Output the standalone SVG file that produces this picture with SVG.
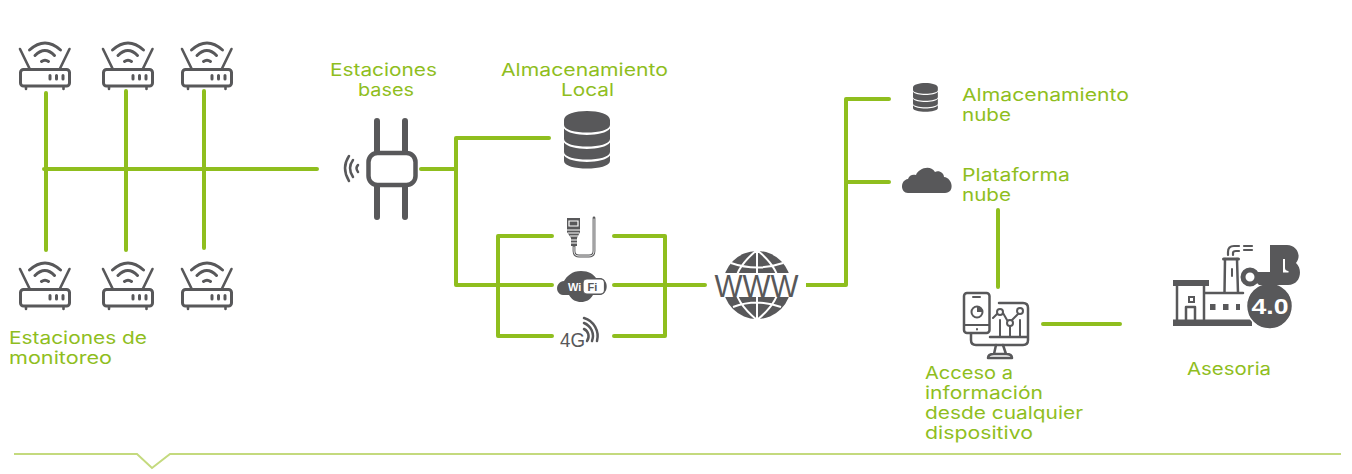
<svg xmlns="http://www.w3.org/2000/svg" width="1352" height="474" viewBox="0 0 1352 474">
<style>
.l{font-family:"Inter","Liberation Sans",sans-serif;font-size:17.5px;font-weight:400;fill:#8fbe1e}
.c{fill:none;stroke:#8fbe1e;stroke-width:4;stroke-linecap:round;stroke-linejoin:round}
.s{fill:none;stroke:#58585a;stroke-linecap:round;stroke-linejoin:round}
.f{fill:#58585a}
.w{font-family:"Liberation Sans",sans-serif;font-weight:700}
</style>
<defs>
<g id="router">
<rect class="s" x="1.500" y="27.500" width="49" height="16.500" rx="3" stroke-width="3"/>
<path class="s" stroke-width="2.600" d="M1 7L10.500 26.500M50.500 7L41 26.500M7 45v2M44.500 45v2"/>
<path class="s" stroke-width="3" d="M10.500 8Q26 -6 41.500 8M16 13.500Q26 3.500 35.500 13.500M22.500 19.500Q26 17 29.500 19.500"/>
<path class="s" stroke-width="3" d="M31 33.500v3.500M37.500 33.500v3.500M44 33.500v3.500"/>
</g>
<g id="db">
<path class="f" d="M0 9C0 -3 46 -3 46 9V14C46 24 0 24 0 14ZM0 17.500C6 26 40 26 46 17.500V28C46 38 0 38 0 28ZM0 31.500C6 40 40 40 46 31.500V41C46 51 0 51 0 41ZM0 44.500C6 53 40 53 46 44.500V50C46 60 0 60 0 50Z"/>
</g>
</defs>

<g id="connectors">
<path class="c" d="M46 93V250M126 91V250M204 91V248M44 169H317"/>
<path class="c" d="M421 169H456M549 138H456V285H552M552 236H498V336H552"/>
<path class="c" d="M614 236H665V336H614M614 285H705"/>
<path class="c" d="M802 285H846V99H889M846 182H889"/>
<path class="c" d="M998 210V287M1043 324H1120"/>
</g>

<g id="estaciones-monitoreo">
<use href="#router" x="19" y="42"/><use href="#router" x="102" y="42"/><use href="#router" x="181" y="42"/>
<use href="#router" x="19" y="262"/><use href="#router" x="102" y="262"/><use href="#router" x="181" y="262"/>
<text class="l" x="9" y="344" textLength="138" lengthAdjust="spacingAndGlyphs">Estaciones de</text>
<text class="l" x="9" y="364" textLength="103" lengthAdjust="spacingAndGlyphs">monitoreo</text>
</g>

<g id="estaciones-bases">
<rect class="s" x="368.500" y="153" width="47" height="32" rx="9" stroke-width="4.500"/>
<path class="s" stroke-width="6" stroke-linecap="butt" d="M377 121V152M405 121V152M377 186V217M405 186V217"/>
<path class="s" stroke-width="2.500" d="M349 156Q341 168 349 181M353 160Q347 168 353 177M358 165Q355 168 358 172"/>
<text class="l" x="330" y="76" textLength="107" lengthAdjust="spacingAndGlyphs">Estaciones</text>
<text class="l" x="358" y="96" textLength="56" lengthAdjust="spacingAndGlyphs">bases</text>
</g>

<g id="almacenamiento-local">
<use href="#db" x="564" y="111"/>
<text class="l" x="501" y="76" textLength="167" lengthAdjust="spacingAndGlyphs">Almacenamiento</text>
<text class="l" x="561" y="96" textLength="53" lengthAdjust="spacingAndGlyphs">Local</text>
</g>

<g id="ethernet">
<path class="f" d="M567 218H580V232L577 238V246H571V238L567 232Z"/>
<path fill="none" stroke="#fff" stroke-width="1.200" d="M569 221H578V226H569ZM567 230H580M568 233H579M570 236H578M571 240H577M571 243H577"/>
<path class="s" stroke-width="2.800" d="M574 246V251Q574 256 579 256H589Q594 256 594 251V218"/>
<path fill="none" stroke="#fff" stroke-width=".9" stroke-linecap="round" d="M574 247V251Q574 256 579 256H589Q594 256 594 251V219"/>
</g>
<g id="wifi">
<path class="f" d="M563 295C555 294 555 282 564 281C567 276 572 271 581 271C589 271 593 274 596 278H600C609 279 609 294 600 295H593C590 300 586 302 581 302C576 302 572 300 569 295Z"/>
<rect x="583" y="279" width="21.500" height="15" rx="4" fill="#fff" stroke="#58585a" stroke-width="1.200"/>
<text class="w" x="568" y="291" font-size="11" fill="#fff">Wi</text>
<text class="w" x="587.500" y="291" font-size="11" fill="#58585a">Fi</text>
</g>
<g id="cuatro-g">
<text x="560" y="347" font-family="Liberation Sans,sans-serif" font-size="21" textLength="25" lengthAdjust="spacingAndGlyphs" fill="#58585a">4G</text>
<path class="s" stroke-width="2.500" d="M584 318A19 19 0 0 1 597 341M584 323A14 14 0 0 1 592 341M584 329A8 8 0 0 1 587 341"/>
</g>

<g id="www">
<circle cx="757" cy="285" r="34" class="f"/>
<path fill="none" stroke="#fff" stroke-width="2" d="M757 250V320M731 263Q757 272 783 263M733 307Q757 298 781 307M757 250Q735 268 735 285Q735 302 757 320M757 250Q779 268 779 285Q779 302 757 320"/>
<rect x="708" y="273" width="98" height="24" fill="#fff"/>
<text x="714.500" y="296.500" font-family="Liberation Sans,sans-serif" font-size="31" textLength="84" lengthAdjust="spacingAndGlyphs" fill="#58585a">WWW</text>
</g>

<g id="almacenamiento-nube">
<use href="#db" transform="translate(913 83) scale(.54 .5)"/>
<text class="l" x="962" y="101" textLength="167" lengthAdjust="spacingAndGlyphs">Almacenamiento</text>
<text class="l" x="962" y="121" textLength="49" lengthAdjust="spacingAndGlyphs">nube</text>
</g>

<g id="plataforma-nube">
<path class="f" d="M908 193C900 193 900 180 908 179C909 175 913 174 916 175C918 169 930 164 935 172C939 170 944 173 944 177C953 178 955 193 945 193Z"/>
<text class="l" x="962" y="181" textLength="108" lengthAdjust="spacingAndGlyphs">Plataforma</text>
<text class="l" x="962" y="201" textLength="49" lengthAdjust="spacingAndGlyphs">nube</text>
</g>

<g id="acceso">
<rect class="s" x="964" y="293" width="25.500" height="40" rx="3" stroke-width="2.500"/>
<path class="s" stroke-width="2" d="M973 297H980M964 325H989M977 329v.5"/>
<circle cx="977" cy="312" r="5.500" class="s" stroke-width="2"/>
<path class="f" d="M977 306.500A5.500 5.500 0 0 1 982.500 312H977Z"/>
<path class="s" stroke-width="2.500" d="M999 303H1023Q1028 303 1028 308V340Q1028 345 1023 345H976Q971 345 971 340V334M990 337H1028"/>
<path class="s" stroke-width="2.500" d="M996 345L994 354M1003 345L1006 354M988 358Q988 354 994 354H1006Q1012 354 1012 358Z"/>
<path class="s" stroke-width="2" d="M993 318L997 314M1003 313L1007 320M1012 320L1018 314M1000 320V337M1010 327V337M1020 320V337"/>
<circle cx="1000" cy="312" r="3" class="s" stroke-width="2"/>
<circle cx="1010" cy="323" r="3" class="s" stroke-width="2"/>
<circle cx="1020" cy="311" r="3" class="s" stroke-width="2"/>
<text class="l" x="925" y="379" textLength="88" lengthAdjust="spacingAndGlyphs">Acceso a</text>
<text class="l" x="925" y="399" textLength="118" lengthAdjust="spacingAndGlyphs">información</text>
<text class="l" x="925" y="419" textLength="158" lengthAdjust="spacingAndGlyphs">desde cualquier</text>
<text class="l" x="925" y="439" textLength="108" lengthAdjust="spacingAndGlyphs">dispositivo</text>
</g>

<g id="asesoria">
<path class="f" d="M1173 319.500H1252V326H1173ZM1173 280H1209V286H1173Z"/>
<path class="s" stroke-width="2.500" d="M1177 286V320M1204 286V320M1186 320V307H1195V320M1204 293H1243M1224.500 293L1225 259M1237 259L1238 293"/>
<path class="s" stroke-width="3" d="M1223.500 259H1238.500"/>
<path class="s" stroke-width="2" d="M1232 269V276"/>
<path class="s" stroke-width="2.200" d="M1228 255V252Q1228 246 1234 246H1239M1233 255V253Q1233 251 1236 251H1239M1244 250H1252M1244 246H1252"/>
<rect x="1189" y="297" width="5" height="5" fill="none" stroke="#58585a" stroke-width="2"/>
<path class="f" d="M1210 304h5.500v6h-5.500zM1223 304h5.500v6h-5.500zM1236 304h4v6h-4z"/>
<circle cx="1269.500" cy="306" r="23" fill="#58585a" stroke="#fff" stroke-width="1.500"/>
<path class="f" d="M1257 272H1270V245H1287C1297 245 1302 256 1296 263C1303 269 1301 285 1288 285H1259L1255 281Z"/>
<circle cx="1250" cy="277" r="7" fill="#fff" stroke="#58585a" stroke-width="5"/>
<path fill="#fff" d="M1283 259h2v9q0 2.500 3.500 3v1.500h-5.500z"/>
<text class="w" x="1251.500" y="314" font-size="22" textLength="37" lengthAdjust="spacingAndGlyphs" fill="#fff">4.0</text>
<text class="l" x="1187" y="375" textLength="84" lengthAdjust="spacingAndGlyphs">Asesoria</text>
</g>

<path id="divider" fill="none" stroke="#c4da7e" stroke-width="2" d="M14 454H137L152 468L170 454H1341"/>
</svg>
